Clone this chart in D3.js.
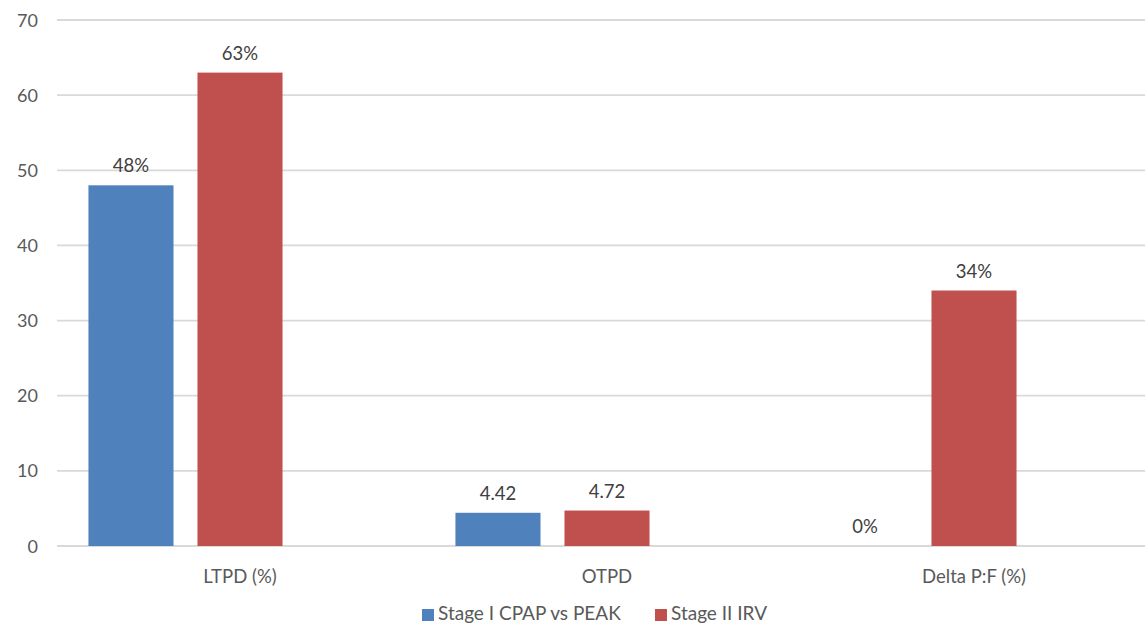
<!DOCTYPE html>
<html><head><meta charset="utf-8">
<script src="https://cdn.jsdelivr.net/npm/d3@7"></script>
<style>body{margin:0;background:#fff;overflow:hidden}svg{display:block}</style>
</head><body>
<svg id="c" width="1145" height="625"></svg>
<script>
const categories = ["LTPD (%)", "OTPD", "Delta P:F (%)"];
const seriesNames = ["Stage I CPAP vs PEAK", "Stage II IRV"];
const stage1 = [48, 4.42, 0];
const stage2 = [63, 4.72, 34];
const labels1 = ["48%", "4.42", "0%"];
const labels2 = ["63%", "4.72", "34%"];
const yTicks = [0, 10, 20, 30, 40, 50, 60, 70];
const colors = ["#4F81BD", "#C0504D"];

const svg = d3.select("#c");
const font = "Lato, 'Open Sans', sans-serif";
const y = d3.scaleLinear().domain([0, 70]).range([546, 20]);
const x0 = d3.scaleBand().domain(categories).range([56.5, 1157.5]).paddingInner(0).paddingOuter(0);
// third slot is an empty placeholder position in each group
const x1 = d3.scaleBand().domain([...seriesNames, "_"]).range([0, x0.bandwidth()]).paddingInner(0.22).paddingOuter(0.293);

// gridlines
svg.append("g").selectAll("line").data(yTicks).join("line")
  .attr("x1", 57).attr("x2", 1145)
  .attr("y1", d => y(d)).attr("y2", d => y(d))
  .attr("stroke", "#d9d9d9").attr("stroke-width", 1.8);

// y axis labels
const yAxis = d3.axisLeft(y).tickValues(yTicks).tickSize(0).tickPadding(0);
const ga = svg.append("g").attr("transform", "translate(38,0)").call(yAxis);
ga.select(".domain").remove();
ga.selectAll("text").attr("font-family", font).attr("font-size", 18).attr("fill", "#595959").attr("dy", "0.34em");

const data = [];
categories.forEach((c, i) => {
  data.push({c, s: seriesNames[0], v: stage1[i], l: labels1[i], col: colors[0]});
  data.push({c, s: seriesNames[1], v: stage2[i], l: labels2[i], col: colors[1]});
});

svg.append("g").selectAll("rect").data(data).join("rect")
  .attr("x", d => x0(d.c) + x1(d.s))
  .attr("width", x1.bandwidth())
  .attr("y", d => y(d.v))
  .attr("height", d => y(0) - y(d.v))
  .attr("fill", d => d.col);

svg.append("g").selectAll("text").data(data).join("text")
  .attr("x", d => x0(d.c) + x1(d.s) + x1.bandwidth() / 2)
  .attr("y", d => y(d.v) - 13)
  .attr("text-anchor", "middle")
  .attr("font-family", font).attr("font-size", 18.5).attr("fill", "#404040")
  .text(d => d.l);

// category labels
const xAxis = d3.axisBottom(x0).tickSize(0).tickPadding(0);
const gx = svg.append("g").attr("transform", "translate(0,570)").call(xAxis);
gx.select(".domain").remove();
gx.selectAll("text").attr("font-family", font).attr("font-size", 18.5).attr("fill", "#595959").attr("dy", "0.71em");

// legend
const legX = [422, 655];
const lg = svg.append("g").selectAll("g").data(seriesNames).join("g")
  .attr("transform", (d, i) => `translate(${legX[i]},0)`);
lg.append("rect").attr("x", 0).attr("y", 609).attr("width", 12).attr("height", 12).attr("fill", (d, i) => colors[i]);
lg.append("text").attr("x", 16).attr("y", 620).attr("font-family", font).attr("font-size", 19).attr("fill", "#595959").text(d => d);
</script>
</body></html>
